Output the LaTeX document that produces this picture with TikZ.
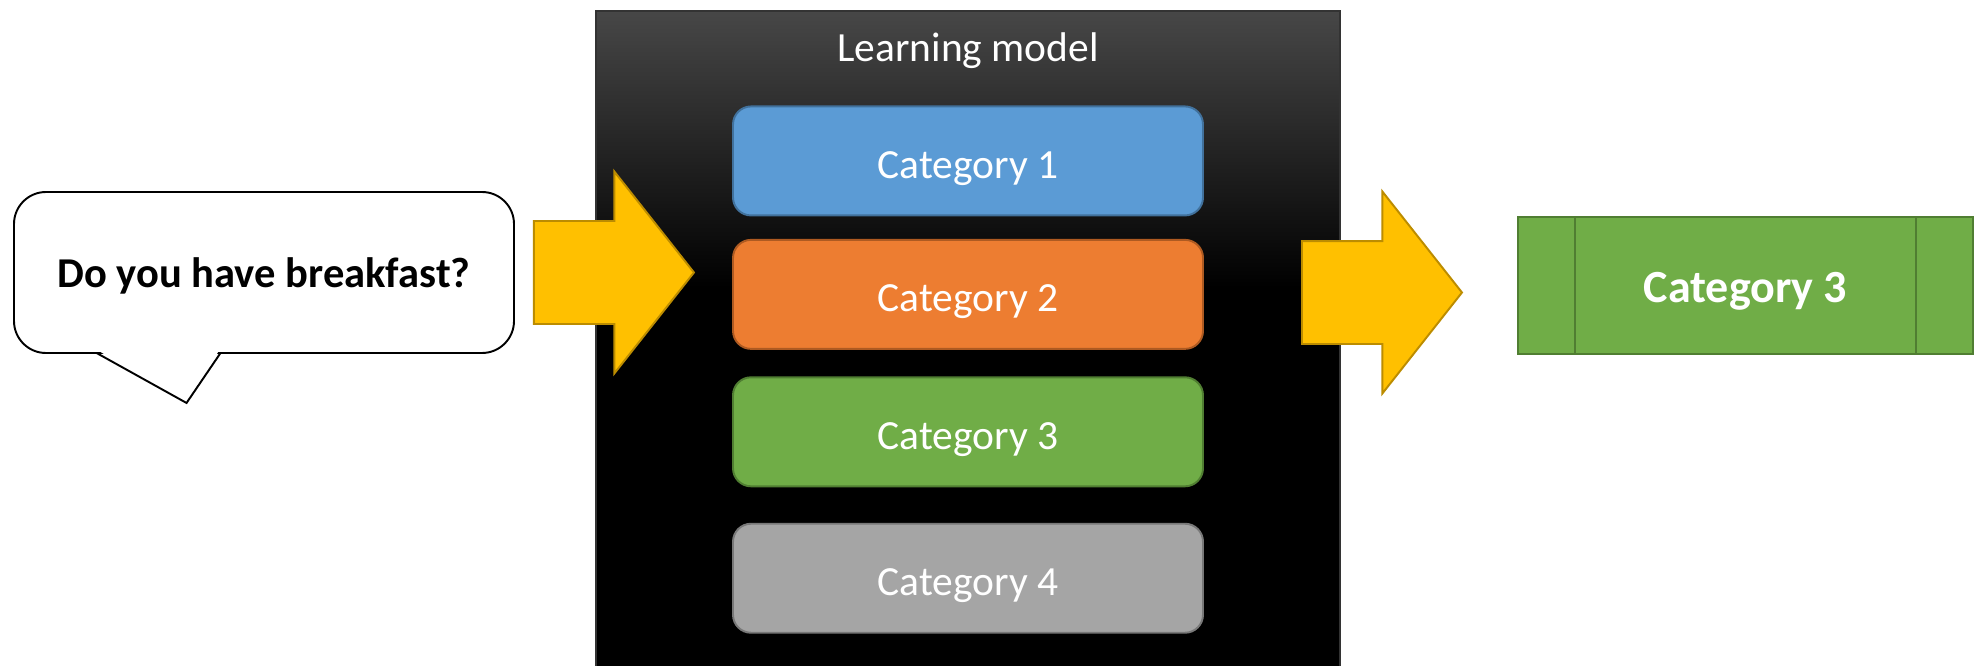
\documentclass[tikz,border=0pt]{standalone}
\usepackage{fontspec}
\setmainfont{Carlito}
\usepackage{tikz}
\usetikzlibrary{positioning,calc,shapes.arrows}

\definecolor{modeltop}{HTML}{474747}
\definecolor{catblue}{HTML}{5B9BD5}
\definecolor{catbluedark}{HTML}{41719C}
\definecolor{catorange}{HTML}{ED7D31}
\definecolor{catorangedark}{HTML}{AE5A21}
\definecolor{catgreen}{HTML}{70AD47}
\definecolor{catgreendark}{HTML}{507E32}
\definecolor{catgray}{HTML}{A5A5A5}
\definecolor{catgraydark}{HTML}{787878}
\definecolor{gold}{HTML}{FFC000}
\definecolor{golddark}{HTML}{BC8C00}

% dark grey at the top, black from a bit above the middle down
\pgfdeclareverticalshading{modelshade}{100bp}{color(0bp)=(black); color(25bp)=(black); color(54bp)=(black); color(75bp)=(modeltop); color(100bp)=(modeltop)}

\begin{document}
\begin{tikzpicture}[
model/.style={rectangle, draw=black!80, line width=0.6pt, shade, shading=modelshade, minimum width=14.88cm, minimum height=13.18cm},
title/.style={text=white, inner sep=0pt, text height=0.9cm, text depth=0.21cm, font=\fontsize{23.6}{28}\selectfont},
cat/.style={rectangle, rounded corners=0.36cm, line width=1.1pt, minimum width=9.4cm, minimum height=2.18cm, text height=0.9cm, text depth=0.21cm, text=white, font=\fontsize{23.6}{28}\selectfont},
bubble/.style={rectangle, draw=black, fill=white, line width=1.1pt, rounded corners=0.64cm, minimum width=10cm, minimum height=3.22cm, text height=0.82cm, text depth=0.22cm, font=\bfseries\fontsize{24.2}{29}\selectfont},
flow/.style={single arrow, fill=gold, draw=golddark, line width=1.1pt, single arrow head extend=0.99cm, single arrow tip angle=103.5, minimum height=3.2cm, inner xsep=0pt, inner ysep=1.01cm},
result/.style={rectangle, fill=catgreen, draw=catgreendark, line width=1.1pt, outer sep=0pt, minimum width=9.1cm, minimum height=2.74cm, text height=0.9cm, text depth=0.22cm, text=white, font=\bfseries\fontsize{26.2}{31}\selectfont}
]
\useasboundingbox (0,0) rectangle (39.5,13.3);
%Nodes
\node[model]     (model)   at (19.36,6.49)                      {};
\node[title]     (head)    at ($(model.north)+(0,-0.67)$)       {Learning model};
\node[cat, fill=catblue, draw=catbluedark]       (cat1) [below=1.9cm of model.north] {Category 1};
\node[cat, fill=catorange, draw=catorangedark]   (cat2) [below=0.45cm of cat1]       {Category 2};
\node[cat, fill=catgreen, draw=catgreendark]     (cat3) [below=0.53cm of cat2]       {Category 3};
\node[cat, fill=catgray, draw=catgraydark]       (cat4) [below=0.71cm of cat3]       {Category 4};
\node[bubble]    (ask)     at (5.28,7.85)                       {Do you have breakfast?};
\node[flow]      (toin)    [right=0.36cm of ask, anchor=tail]   {};
\node[flow, anchor=tail]   (toout)   at (26.02,7.45)            {};
\node[result]    (res)     at (34.91,7.59)                      {Category 3};
%Bubble tail
\coordinate (t1)  at ($(ask.south west)+(1.67,0.02)$);
\coordinate (tip) at ($(ask.south west)+(3.47,-0.98)$);
\coordinate (t2)  at ($(ask.south west)+(4.15,0.02)$);
\fill[white] ($(t1)+(0.03,0.05)$) -- (tip) -- ($(t2)+(-0.03,0.05)$) -- cycle;
\draw[line width=1.1pt, line join=miter] (t1) -- (tip) -- (t2);
%Lines
\draw[catgreendark, line width=1.1pt] ($(res.north west)+(1.14,0)$) -- ($(res.south west)+(1.14,0)$);
\draw[catgreendark, line width=1.1pt] ($(res.north east)+(-1.14,0)$) -- ($(res.south east)+(-1.14,0)$);
\end{tikzpicture}
\end{document}
